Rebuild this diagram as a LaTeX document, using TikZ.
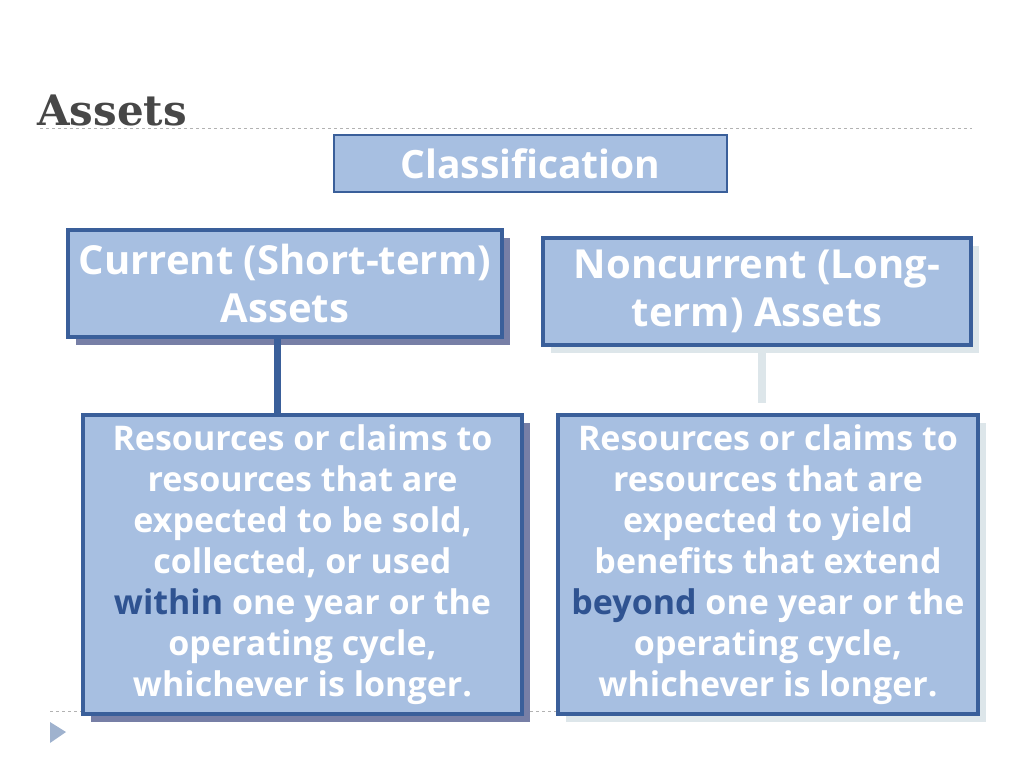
\documentclass[tikz,border=0pt]{standalone}
\usepackage{fontspec}
\setmainfont{Open Sans}
\newfontfamily\titlefont{DejaVu Serif}
\begin{document}
\begin{tikzpicture}[x=1pt,y=-1pt,
  box/.style={draw=bd,line width=4pt,fill=fl,text=white,font=\bfseries,align=center,inner sep=0pt},
  dsh/.style={fill=sd},
  lsh/.style={fill=ls}]
\definecolor{bd}{HTML}{3A5F9A}
\definecolor{fl}{HTML}{A7BFE1}
\definecolor{sd}{HTML}{777FA6}
\definecolor{ls}{HTML}{DDE6EA}
\definecolor{hl}{HTML}{2F5391}
\useasboundingbox (0,0) rectangle (1024,768);
\node[anchor=west,text=black!72,inner sep=0pt,font=\titlefont\bfseries\fontsize{42}{46}\selectfont] (t) at (37,110) {Assets};
\draw[gray!60,dashed,line width=0.6pt] (40,128) -- (972,128);
\draw[gray!60,dashed,line width=0.6pt] (50,711) -- (560,711);
\fill[fl!80!gray] (50,722) -- (66,732) -- (50,743) -- cycle;
% shadows
\fill[dsh] (76,238) rectangle (510,345);
\fill[dsh] (91,423) rectangle (530,722);
\fill[lsh] (551,246) rectangle (979,353);
\fill[lsh] (566,423) rectangle (986,722);
\node[box,line width=1.5pt,minimum width=393pt,minimum height=57pt,font=\bfseries\fontsize{39}{44}\selectfont] (c) at (530.5,163.5) {Classification};
\node[box,minimum width=434pt,minimum height=107pt,font=\bfseries\fontsize{40}{48}\selectfont] (cur) at (285,283.5) {Current (Short-term)\\Assets};
\node[box,minimum width=428pt,minimum height=107pt,font=\bfseries\fontsize{40}{48}\selectfont] (non) at (757,291.5) {Noncurrent (Long-\\term) Assets};
\node[box,minimum width=439pt,minimum height=299pt,font=\bfseries\fontsize{34}{41}\selectfont] (l) at (302.5,564.5) {Resources or claims to\\resources that are\\expected to be sold,\\collected, or used\\\textcolor{hl}{within} one year or the\\operating cycle,\\whichever is longer.};
\node[box,minimum width=420pt,minimum height=299pt,font=\bfseries\fontsize{34}{41}\selectfont] (r) at (768,564.5) {Resources or claims to\\resources that are\\expected to yield\\benefits that extend\\\textcolor{hl}{beyond} one year or the\\operating cycle,\\whichever is longer.};
\draw[bd,line width=7pt] (cur.south -| 277,0) -- (l.north -| 277,0);
\draw[ls,line width=8pt] (762,353) -- (762,403);
\end{tikzpicture}
\end{document}
